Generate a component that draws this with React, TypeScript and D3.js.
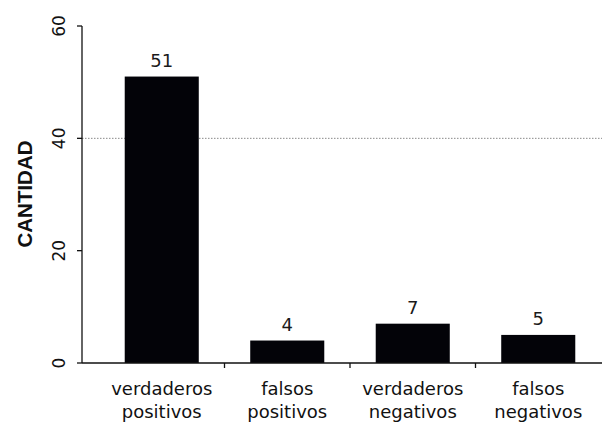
import React from "react";
import * as d3 from "d3";

const categories: string[][] = [
  ["verdaderos", "positivos"],
  ["falsos", "positivos"],
  ["verdaderos", "negativos"],
  ["falsos", "negativos"],
];
const values: number[] = [51, 4, 7, 5];
const yTicks: number[] = [0, 20, 40, 60];
const gridValues: number[] = [40];
const yLabel = "CANTIDAD";

const W = 602;
const H = 423;
const axisX = 82;
const bandStart = 99;
const bandEnd = 601;
const bottom = 363;
const top = 26;

export default function App() {
  const keys = categories.map((c) => c.join(" "));
  const x = d3
    .scaleBand<string>()
    .domain(keys)
    .range([bandStart, bandEnd])
    .paddingInner(0.41)
    .paddingOuter(0.205);
  const y = d3.scaleLinear().domain([0, 60]).range([bottom, top]);
  const step = x.step();
  const font = "'DejaVu Sans', Verdana, sans-serif";

  return (
    <div style={{ position: "absolute", left: 0, top: 0 }}>
      <svg width={W} height={H} style={{ display: "block", background: "#fff" }}>
        {/* dotted gridline */}
        {gridValues.map((g) => (
          <line
            key={g}
            x1={axisX}
            x2={W}
            y1={y(g)}
            y2={y(g)}
            stroke="#8a8a8a"
            strokeWidth={1}
            strokeDasharray="1.5,1.5"
          />
        ))}

        {/* bars */}
        {values.map((v, i) => (
          <rect
            key={keys[i]}
            x={x(keys[i])!}
            y={y(v)}
            width={x.bandwidth()}
            height={y(0) - y(v)}
            fill="#030308"
          />
        ))}

        {/* value labels */}
        {values.map((v, i) => (
          <text
            key={"v" + i}
            x={x(keys[i])! + x.bandwidth() / 2}
            y={y(v) - 10}
            textAnchor="middle"
            fontFamily={font}
            fontSize={18}
            fill="#1a1a1a"
          >
            {v}
          </text>
        ))}

        {/* y axis */}
        <line x1={axisX} x2={axisX} y1={y(60)} y2={y(0)} stroke="#111" strokeWidth={1.3} />
        {yTicks.map((t) => (
          <g key={t}>
            <line x1={axisX - 5} x2={axisX} y1={y(t)} y2={y(t)} stroke="#111" strokeWidth={1.3} />
            <text
              transform={`translate(${axisX - 17},${y(t)}) rotate(-90)`}
              textAnchor="middle"
              fontFamily={font}
              fontSize={17}
              fill="#111"
            >
              {t}
            </text>
          </g>
        ))}
        <text
          transform={`translate(32,${194}) rotate(-90)`}
          textAnchor="middle"
          fontFamily="'Liberation Sans Narrow', 'Liberation Sans', Arial, sans-serif"
          fontWeight="bold"
          fontSize={21}
          textLength={107}
          lengthAdjust="spacingAndGlyphs"
          fill="#111"
        >
          {yLabel}
        </text>

        {/* x axis */}
        <line x1={axisX} x2={W} y1={y(0)} y2={y(0)} stroke="#111" strokeWidth={1.6} />
        {keys.slice(1).map((k, i) => (
          <line
            key={"t" + k}
            x1={bandStart + (i + 1) * step}
            x2={bandStart + (i + 1) * step}
            y1={y(0)}
            y2={y(0) + 5}
            stroke="#111"
            strokeWidth={1.3}
          />
        ))}
        {categories.map((c, i) => (
          <text
            key={"c" + i}
            x={x(keys[i])! + x.bandwidth() / 2}
            y={395}
            textAnchor="middle"
            fontFamily={font}
            fontSize={18}
            fill="#111"
          >
            {c.map((line, j) => (
              <tspan key={j} x={x(keys[i])! + x.bandwidth() / 2} dy={j === 0 ? 0 : 23}>
                {line}
              </tspan>
            ))}
          </text>
        ))}
      </svg>
    </div>
  );
}
